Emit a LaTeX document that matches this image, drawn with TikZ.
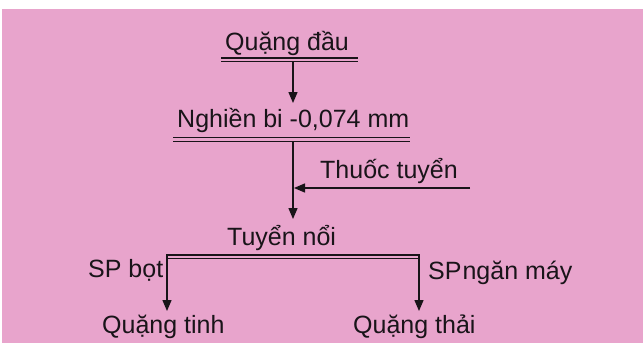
\documentclass[tikz,border=0pt]{standalone}
\usepackage{fontspec}
\setmainfont{Liberation Sans}
\usetikzlibrary{arrows.meta}
\definecolor{bgpink}{RGB}{232,164,204}
\definecolor{ink}{RGB}{25,20,25}
\begin{document}
\begin{tikzpicture}[x=1pt,y=-1pt,
  lbl/.style={anchor=base west,inner sep=0pt,text=ink,font=\fontsize{25}{29}\selectfont},
  ln/.style={line width=1.4pt,draw=ink},
  arr/.style={ln,-{Triangle[length=11pt,width=9pt]}},
  rule/.style={line width=1.1pt,draw=ink}]
\fill[white] (0,0) rectangle (643,343);
\fill[bgpink] (2,9) rectangle (643,343);
\useasboundingbox (0,0) rectangle (643,343);

% texts
\node[lbl] (qd) at (225,50) {Quặng đầu};
\node[lbl] (nb) at (177,127) {Nghiền bi -0,074 mm};
\node[lbl] (tt) at (320,178) {Thuốc tuyển};
\node[lbl] (tn) at (227,245) {Tuyển nổi};
\node[lbl] (spb) at (88,277) {SP bọt};
\node[lbl] (spn) at (428,279) {SP\kern1pt ngăn máy};
\node[lbl] (qt) at (102,333) {Quặng tinh};
\node[lbl] (qth) at (353,333) {Quặng thải};

% double rules
\draw[rule] (221,58) -- (358,58);
\draw[rule] (221,61.5) -- (358,61.5);
\draw[rule] (173,137.5) -- (410,137.5);
\draw[rule] (173,141.5) -- (410,141.5);
\draw[rule] (166,255) -- (420,255);
\draw[rule] (166,258.5) -- (420,258.5);

% connector points
\coordinate (a1s) at (293,62);
\coordinate (a1e) at (293,103);
\coordinate (a2s) at (293,142);
\coordinate (a2e) at (293,219);
\coordinate (a3s) at (470,188);
\coordinate (a3e) at (294,188);
\coordinate (bls) at (167,255);
\coordinate (ble) at (167,311);
\coordinate (brs) at (419,255);
\coordinate (bre) at (419,311);

\draw[arr] (a1s) -- (a1e);
\draw[arr] (a2s) -- (a2e);
\draw[arr] (a3s) -- (a3e);
\draw[arr] (bls) -- (ble);
\draw[arr] (brs) -- (bre);
\end{tikzpicture}
\end{document}
